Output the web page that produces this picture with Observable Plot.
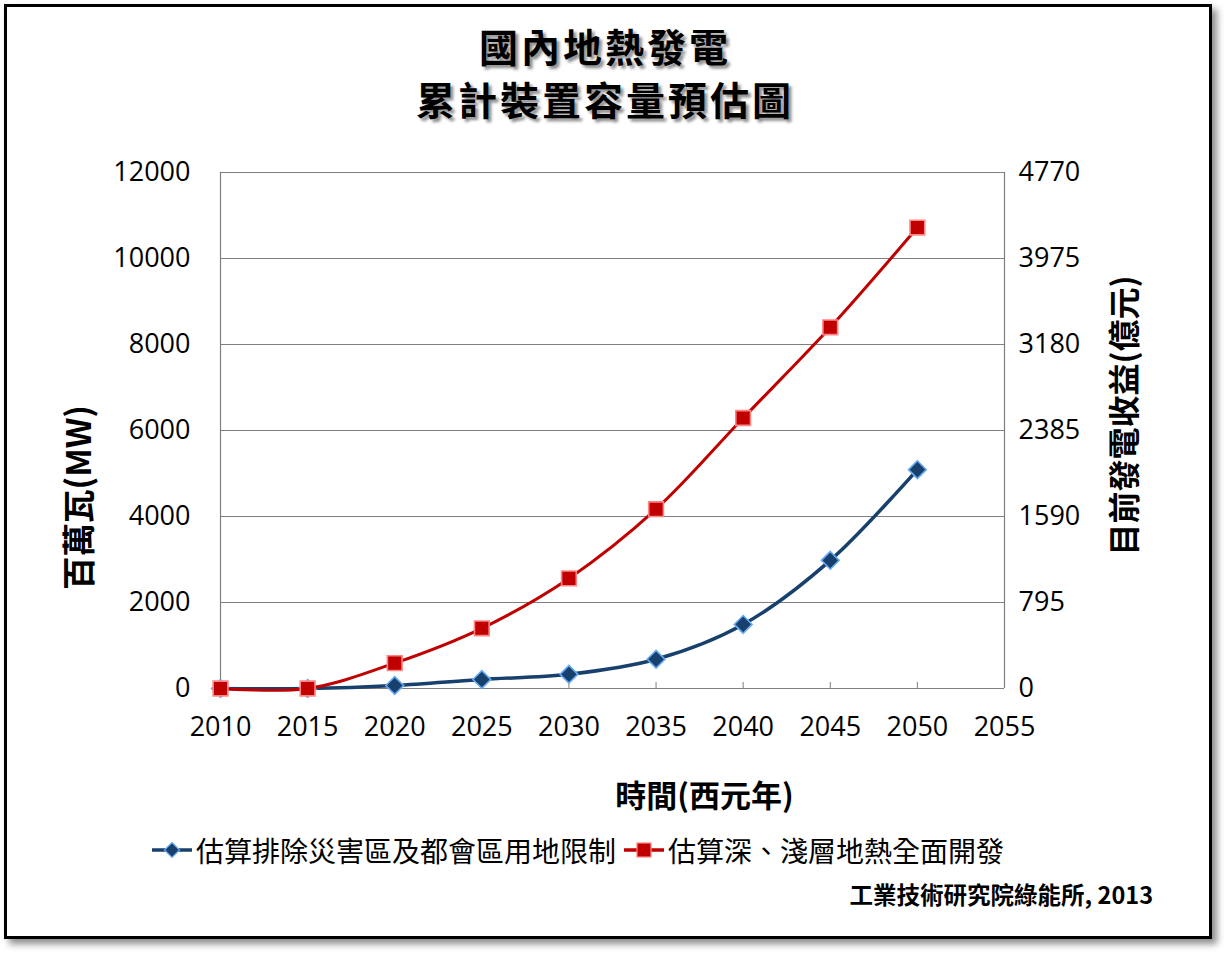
<!DOCTYPE html>
<html>
<head>
<meta charset="utf-8">
<script src="https://cdn.jsdelivr.net/npm/d3@7"></script>
<script src="https://cdn.jsdelivr.net/npm/@observablehq/plot@0.6"></script>
<style>
  html, body { margin: 0; padding: 0; background: #fff; }
  #wrap { position: relative; width: 1227px; height: 955px; overflow: hidden; font-family: "Open Sans", "Noto Sans CJK TC", sans-serif; }
  #frame { position: absolute; left: 4px; top: 4px; width: 1202px; height: 929px; border: 3px solid #000; box-shadow: 5px 5px 7px rgba(0,0,0,0.45); background: #fff; }
  #title { position: absolute; left: 0; top: 0; width: 1210px; font-family: "Noto Sans CJK TC", sans-serif; font-weight: 700; color: #000; text-shadow: 3px 3px 3px rgba(0,0,0,0.45); }
  #title span { display: inline-block; white-space: nowrap; }
  #t1 { position: absolute; top: 20px; width: 100%; text-align: center; font-size: 39px; letter-spacing: 3px; line-height: 50px; }
  #t2 { position: absolute; top: 70px; width: 100%; text-align: center; font-size: 39px; letter-spacing: 3px; line-height: 56px; }
  #chart { position: absolute; left: 0; top: 140px; }
  #legend { position: absolute; top: 830px; left: 150px; display: flex; align-items: center; font-family: "Noto Sans CJK TC", sans-serif; font-size: 28px; color: #000; white-space: nowrap; }
  #legend .item { display: flex; align-items: center; margin-right: 6px; }
  #legend svg { margin-right: 2px; }
  #caption { position: absolute; top: 877px; right: 74px; font-family: "Noto Sans CJK TC", "Open Sans", sans-serif; font-size: 23.5px; font-weight: 700; color: #000; white-space: nowrap; }
</style>
</head>
<body>
<div id="wrap">
  <div id="frame"></div>
  <div id="title"></div>
  <div id="chart"></div>
  <div id="legend"></div>
  <div id="caption"></div>
</div>
<script>
// ---- data ----
const titleLines = ["國內地熱發電", "累計裝置容量預估圖"];
const years = [2010, 2015, 2020, 2025, 2030, 2035, 2040, 2045, 2050];
const seriesNames = ["估算排除災害區及都會區用地限制", "估算深、淺層地熱全面開發"];
const limitedMW = [0, 0, 70, 210, 330, 680, 1490, 2980, 5090];
const fullMW = [0, 0, 590, 1400, 2560, 4170, 6290, 8400, 10720];
const xTicks = [2010, 2015, 2020, 2025, 2030, 2035, 2040, 2045, 2050, 2055];
const yTicks = [0, 2000, 4000, 6000, 8000, 10000, 12000];
const rightTickLabels = ["0", "795", "1590", "2385", "3180", "3975", "4770"];
const xLabel = "時間(西元年)";
const yLabelLeft = "百萬瓦(MW)";
const yLabelRight = "目前發電收益(億元)";
const caption = "工業技術研究院綠能所, 2013";

const colors = { limited: "#17406d", limitedMarkStroke: "#67a9f3", full: "#c00000", fullMarkStroke: "#ff8585" };

// ---- title ----
const title = document.getElementById("title");
title.innerHTML = `<div id="t1"><span>${titleLines[0]}</span></div><div id="t2"><span>${titleLines[1]}</span></div>`;

// ---- table ----
const rowsLimited = years.map((y, i) => ({ year: y, value: limitedMW[i] }));
const rowsFull = years.map((y, i) => ({ year: y, value: fullMW[i] }));

const axisFont = "'Open Sans', sans-serif";
const labelFont = "'Noto Sans CJK TC', sans-serif";

const chart = Plot.plot({
  width: 1227,
  height: 680,
  marginLeft: 220,
  marginRight: 223,
  marginTop: 32,
  marginBottom: 132,
  style: { fontFamily: axisFont, fontSize: "27px", color: "#000", background: "transparent", overflow: "visible" },
  x: { domain: [2010, 2055] },
  y: { domain: [0, 12000] },
  marks: [
    Plot.gridY(yTicks, { stroke: "#7f7f7f", strokeOpacity: 1, strokeWidth: 1.2 }),
    Plot.ruleX([2010, 2055], { stroke: "#7f7f7f", strokeWidth: 1.2 }),
    Plot.axisX({ ticks: xTicks, tickFormat: d => String(d), tickSize: -6, tickPadding: 34, stroke: "#7f7f7f", fontSize: 27, label: null }),
    Plot.axisY({ anchor: "left", ticks: yTicks, tickFormat: d => String(d), tickSize: 0, tickPadding: 30, fontSize: 27, label: null }),
    Plot.axisY({ anchor: "right", ticks: yTicks, tickFormat: d => rightTickLabels[yTicks.indexOf(d)], tickSize: 0, tickPadding: 14, fontSize: 27, label: null }),
    Plot.line(rowsLimited, { x: "year", y: "value", curve: "catmull-rom", stroke: colors.limited, strokeWidth: 3.5 }),
    Plot.dot(rowsLimited, { x: "year", y: "value", symbol: "diamond2", r: 8, fill: colors.limited, stroke: colors.limitedMarkStroke, strokeWidth: 1.6 }),
    Plot.line(rowsFull, { x: "year", y: "value", curve: "catmull-rom", stroke: colors.full, strokeWidth: 3 }),
    Plot.dot(rowsFull, { x: "year", y: "value", symbol: "square", r: 8.3, fill: colors.full, stroke: colors.fullMarkStroke, strokeWidth: 1.6 }),
    Plot.text([xLabel], { text: d => d, frameAnchor: "bottom", textAnchor: "middle", dx: 92, dy: 118, fontSize: 31, fontWeight: 700, fontFamily: labelFont, fill: "#000" }),
    Plot.text([yLabelLeft], { text: d => d, frameAnchor: "left", textAnchor: "middle", dx: -140, dy: 67, rotate: -90, fontSize: 33.5, fontWeight: 700, fontFamily: labelFont, fill: "#000" }),
    Plot.text([yLabelRight], { text: d => d, frameAnchor: "right", textAnchor: "middle", dx: 121, dy: -15, rotate: -90, fontSize: 32, fontWeight: 700, fontFamily: labelFont, fill: "#000" })
  ]
});
document.getElementById("chart").appendChild(chart);

// ---- legend ----
const legend = document.getElementById("legend");
const diamondSvg = `<svg width="44" height="20" viewBox="0 0 44 20"><line x1="2" y1="10" x2="42" y2="10" stroke="${colors.limited}" stroke-width="3.5"/><path d="M22,2.5 L29.5,10 L22,17.5 L14.5,10 Z" fill="${colors.limited}" stroke="${colors.limitedMarkStroke}" stroke-width="1.2"/></svg>`;
const squareSvg = `<svg width="44" height="20" viewBox="0 0 44 20"><line x1="2" y1="10" x2="42" y2="10" stroke="${colors.full}" stroke-width="3.5"/><rect x="15" y="3" width="14" height="14" fill="${colors.full}" stroke="${colors.fullMarkStroke}" stroke-width="1.2"/></svg>`;
legend.innerHTML = `<div class="item">${diamondSvg}<span>${seriesNames[0]}</span></div><div class="item">${squareSvg}<span>${seriesNames[1]}</span></div>`;

document.getElementById("caption").textContent = caption;
</script>
</body>
</html>
